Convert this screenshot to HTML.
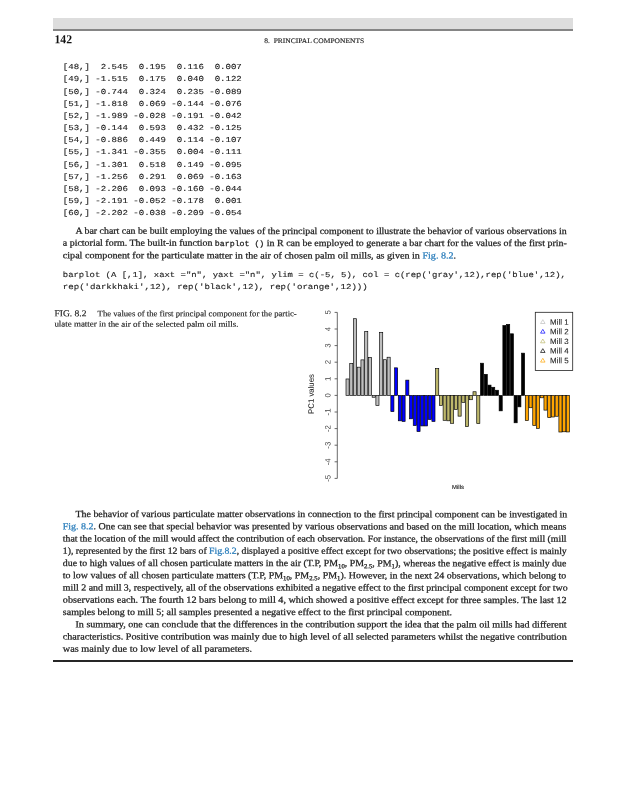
<!DOCTYPE html>
<html><head><meta charset="utf-8"><title>page 142</title>
<style>
html,body{margin:0;padding:0;background:#fff;}
body{width:625px;height:800px;position:relative;overflow:hidden;font-family:"Liberation Serif",serif;}
#wrap{position:absolute;left:0;top:0;width:625px;height:800px;will-change:transform;}
svg{position:absolute;left:0;top:0;}
text{white-space:pre;}
.lk{fill:#2a7dbb;stroke:#2a7dbb;}
</style></head><body>
<div id="wrap">

<div style="position:absolute;left:53px;top:18px;width:520px;height:11px;background:#dddddd;"></div>
<div style="position:absolute;left:53px;top:29px;width:520px;height:1.6px;background:#858585;"></div>
<div style="position:absolute;left:53px;top:660.0px;width:520px;height:2px;background:#262626;"></div>
<svg width="625" height="800" viewBox="0 0 625 800">
<rect x="346.00" y="378.97" width="3.11" height="16.43" fill="#bebebe" stroke="#000" stroke-width="0.65"/>
<rect x="349.74" y="363.36" width="3.11" height="32.04" fill="#bebebe" stroke="#000" stroke-width="0.65"/>
<rect x="353.47" y="318.71" width="3.11" height="76.69" fill="#bebebe" stroke="#000" stroke-width="0.65"/>
<rect x="357.20" y="367.18" width="3.11" height="28.22" fill="#bebebe" stroke="#000" stroke-width="0.65"/>
<rect x="360.94" y="359.88" width="3.11" height="35.52" fill="#bebebe" stroke="#000" stroke-width="0.65"/>
<rect x="364.68" y="331.32" width="3.11" height="64.08" fill="#bebebe" stroke="#000" stroke-width="0.65"/>
<rect x="368.41" y="357.39" width="3.11" height="38.01" fill="#bebebe" stroke="#000" stroke-width="0.65"/>
<rect x="372.14" y="395.40" width="3.11" height="1.83" fill="#bebebe" stroke="#000" stroke-width="0.65"/>
<rect x="375.88" y="395.40" width="3.11" height="10.13" fill="#bebebe" stroke="#000" stroke-width="0.65"/>
<rect x="379.62" y="332.32" width="3.11" height="63.08" fill="#bebebe" stroke="#000" stroke-width="0.65"/>
<rect x="383.35" y="359.71" width="3.11" height="35.69" fill="#bebebe" stroke="#000" stroke-width="0.65"/>
<rect x="387.08" y="357.22" width="3.11" height="38.18" fill="#bebebe" stroke="#000" stroke-width="0.65"/>
<rect x="390.82" y="395.40" width="3.11" height="16.27" fill="#0000ff" stroke="#000" stroke-width="0.65"/>
<rect x="394.56" y="367.84" width="3.11" height="27.56" fill="#0000ff" stroke="#000" stroke-width="0.65"/>
<rect x="398.29" y="395.40" width="3.11" height="25.40" fill="#0000ff" stroke="#000" stroke-width="0.65"/>
<rect x="402.02" y="395.40" width="3.11" height="26.06" fill="#0000ff" stroke="#000" stroke-width="0.65"/>
<rect x="405.76" y="380.13" width="3.11" height="15.27" fill="#0000ff" stroke="#000" stroke-width="0.65"/>
<rect x="409.50" y="395.40" width="3.11" height="23.41" fill="#0000ff" stroke="#000" stroke-width="0.65"/>
<rect x="413.23" y="395.40" width="3.11" height="30.21" fill="#0000ff" stroke="#000" stroke-width="0.65"/>
<rect x="416.97" y="395.40" width="3.11" height="36.19" fill="#0000ff" stroke="#000" stroke-width="0.65"/>
<rect x="420.70" y="395.40" width="3.11" height="30.54" fill="#0000ff" stroke="#000" stroke-width="0.65"/>
<rect x="424.44" y="395.40" width="3.11" height="30.54" fill="#0000ff" stroke="#000" stroke-width="0.65"/>
<rect x="428.17" y="395.40" width="3.11" height="24.07" fill="#0000ff" stroke="#000" stroke-width="0.65"/>
<rect x="431.90" y="395.40" width="3.11" height="26.06" fill="#0000ff" stroke="#000" stroke-width="0.65"/>
<rect x="435.64" y="368.67" width="3.11" height="26.73" fill="#bdb76b" stroke="#000" stroke-width="0.65"/>
<rect x="439.38" y="395.40" width="3.11" height="9.96" fill="#bdb76b" stroke="#000" stroke-width="0.65"/>
<rect x="443.11" y="395.40" width="3.11" height="24.90" fill="#bdb76b" stroke="#000" stroke-width="0.65"/>
<rect x="446.85" y="395.40" width="3.11" height="25.40" fill="#bdb76b" stroke="#000" stroke-width="0.65"/>
<rect x="450.58" y="395.40" width="3.11" height="27.89" fill="#bdb76b" stroke="#000" stroke-width="0.65"/>
<rect x="454.31" y="395.40" width="3.11" height="14.11" fill="#bdb76b" stroke="#000" stroke-width="0.65"/>
<rect x="458.05" y="395.40" width="3.11" height="20.75" fill="#bdb76b" stroke="#000" stroke-width="0.65"/>
<rect x="461.78" y="395.40" width="3.11" height="6.97" fill="#bdb76b" stroke="#000" stroke-width="0.65"/>
<rect x="465.52" y="395.40" width="3.11" height="31.21" fill="#bdb76b" stroke="#000" stroke-width="0.65"/>
<rect x="469.25" y="395.40" width="3.11" height="4.32" fill="#bdb76b" stroke="#000" stroke-width="0.65"/>
<rect x="472.99" y="391.75" width="3.11" height="3.65" fill="#bdb76b" stroke="#000" stroke-width="0.65"/>
<rect x="476.73" y="395.40" width="3.11" height="28.22" fill="#bdb76b" stroke="#000" stroke-width="0.65"/>
<rect x="480.46" y="363.20" width="3.11" height="32.20" fill="#000000" stroke="#000" stroke-width="0.65"/>
<rect x="484.19" y="374.32" width="3.11" height="21.08" fill="#000000" stroke="#000" stroke-width="0.65"/>
<rect x="487.93" y="385.11" width="3.11" height="10.29" fill="#000000" stroke="#000" stroke-width="0.65"/>
<rect x="491.66" y="387.27" width="3.11" height="8.13" fill="#000000" stroke="#000" stroke-width="0.65"/>
<rect x="495.40" y="390.25" width="3.11" height="5.15" fill="#000000" stroke="#000" stroke-width="0.65"/>
<rect x="499.13" y="395.40" width="3.11" height="15.44" fill="#000000" stroke="#000" stroke-width="0.65"/>
<rect x="502.87" y="325.51" width="3.11" height="69.89" fill="#000000" stroke="#000" stroke-width="0.65"/>
<rect x="506.61" y="324.35" width="3.11" height="71.05" fill="#000000" stroke="#000" stroke-width="0.65"/>
<rect x="510.34" y="333.81" width="3.11" height="61.59" fill="#000000" stroke="#000" stroke-width="0.65"/>
<rect x="514.08" y="395.40" width="3.11" height="27.39" fill="#000000" stroke="#000" stroke-width="0.65"/>
<rect x="517.81" y="395.40" width="3.11" height="11.45" fill="#000000" stroke="#000" stroke-width="0.65"/>
<rect x="521.54" y="353.15" width="3.11" height="42.25" fill="#000000" stroke="#000" stroke-width="0.65"/>
<rect x="525.28" y="395.40" width="3.11" height="25.15" fill="#ffa500" stroke="#000" stroke-width="0.65"/>
<rect x="529.01" y="395.40" width="3.11" height="12.35" fill="#ffa500" stroke="#000" stroke-width="0.65"/>
<rect x="532.75" y="395.40" width="3.11" height="30.18" fill="#ffa500" stroke="#000" stroke-width="0.65"/>
<rect x="536.49" y="395.40" width="3.11" height="33.02" fill="#ffa500" stroke="#000" stroke-width="0.65"/>
<rect x="540.22" y="395.40" width="3.11" height="2.39" fill="#ffa500" stroke="#000" stroke-width="0.65"/>
<rect x="543.95" y="395.40" width="3.11" height="14.71" fill="#ffa500" stroke="#000" stroke-width="0.65"/>
<rect x="547.69" y="395.40" width="3.11" height="22.26" fill="#ffa500" stroke="#000" stroke-width="0.65"/>
<rect x="551.42" y="395.40" width="3.11" height="21.60" fill="#ffa500" stroke="#000" stroke-width="0.65"/>
<rect x="555.16" y="395.40" width="3.11" height="20.85" fill="#ffa500" stroke="#000" stroke-width="0.65"/>
<rect x="558.89" y="395.40" width="3.11" height="36.62" fill="#ffa500" stroke="#000" stroke-width="0.65"/>
<rect x="562.63" y="395.40" width="3.11" height="36.37" fill="#ffa500" stroke="#000" stroke-width="0.65"/>
<rect x="566.37" y="395.40" width="3.11" height="36.55" fill="#ffa500" stroke="#000" stroke-width="0.65"/>
<path d="M337.3 312.40V478.40" stroke="#444" stroke-width="0.8" fill="none"/>
<path d="M334.6 478.40H337.3" stroke="#444" stroke-width="0.8" fill="none"/>
<path d="M334.6 461.80H337.3" stroke="#444" stroke-width="0.8" fill="none"/>
<path d="M334.6 445.20H337.3" stroke="#444" stroke-width="0.8" fill="none"/>
<path d="M334.6 428.60H337.3" stroke="#444" stroke-width="0.8" fill="none"/>
<path d="M334.6 412.00H337.3" stroke="#444" stroke-width="0.8" fill="none"/>
<path d="M334.6 395.40H337.3" stroke="#444" stroke-width="0.8" fill="none"/>
<path d="M334.6 378.80H337.3" stroke="#444" stroke-width="0.8" fill="none"/>
<path d="M334.6 362.20H337.3" stroke="#444" stroke-width="0.8" fill="none"/>
<path d="M334.6 345.60H337.3" stroke="#444" stroke-width="0.8" fill="none"/>
<path d="M334.6 329.00H337.3" stroke="#444" stroke-width="0.8" fill="none"/>
<path d="M334.6 312.40H337.3" stroke="#444" stroke-width="0.8" fill="none"/>
<rect x="535.3" y="312.3" width="37.4" height="58.1" fill="#fff" stroke="#222" stroke-width="0.8"/>
<path d="M542.8 319.70L545.05 323.50H540.55Z" fill="none" stroke="#bebebe" stroke-width="0.7"/>
<path d="M542.8 329.35L545.05 333.15H540.55Z" fill="none" stroke="#0000ff" stroke-width="0.7"/>
<path d="M542.8 339.00L545.05 342.80H540.55Z" fill="none" stroke="#bdb76b" stroke-width="0.7"/>
<path d="M542.8 348.65L545.05 352.45H540.55Z" fill="none" stroke="#000000" stroke-width="0.7"/>
<path d="M542.8 358.30L545.05 362.10H540.55Z" fill="none" stroke="#ffa500" stroke-width="0.7"/>
<text id="L1" transform="translate(54.40 43.20) scale(0.9627 1) rotate(0.03)" font-family="Liberation Serif" font-size="12.2" fill="#111" font-weight="bold">142</text>
<text id="L2" transform="translate(264.30 43.00) scale(1.0726 1) rotate(0.03)" font-family="Liberation Serif" font-size="7.0" fill="#222" stroke="#222" stroke-width="0.15">8.  PRINCIPAL COMPONENTS</text>
<text id="L3" transform="translate(62.80 69.20) scale(1.1753 1) rotate(0.03)" font-family="Liberation Mono" font-size="7.7" fill="#222" stroke="#222" stroke-width="0.12">[48,]  2.545  0.195  0.116  0.007</text>
<text id="L4" transform="translate(62.80 81.37) scale(1.1753 1) rotate(0.03)" font-family="Liberation Mono" font-size="7.7" fill="#222" stroke="#222" stroke-width="0.12">[49,] -1.515  0.175  0.040  0.122</text>
<text id="L5" transform="translate(62.80 93.54) scale(1.1753 1) rotate(0.03)" font-family="Liberation Mono" font-size="7.7" fill="#222" stroke="#222" stroke-width="0.12">[50,] -0.744  0.324  0.235 -0.089</text>
<text id="L6" transform="translate(62.80 105.71) scale(1.1753 1) rotate(0.03)" font-family="Liberation Mono" font-size="7.7" fill="#222" stroke="#222" stroke-width="0.12">[51,] -1.818  0.069 -0.144 -0.076</text>
<text id="L7" transform="translate(62.80 117.88) scale(1.1753 1) rotate(0.03)" font-family="Liberation Mono" font-size="7.7" fill="#222" stroke="#222" stroke-width="0.12">[52,] -1.989 -0.028 -0.191 -0.042</text>
<text id="L8" transform="translate(62.80 130.05) scale(1.1753 1) rotate(0.03)" font-family="Liberation Mono" font-size="7.7" fill="#222" stroke="#222" stroke-width="0.12">[53,] -0.144  0.593  0.432 -0.125</text>
<text id="L9" transform="translate(62.80 142.22) scale(1.1753 1) rotate(0.03)" font-family="Liberation Mono" font-size="7.7" fill="#222" stroke="#222" stroke-width="0.12">[54,] -0.886  0.449  0.114 -0.107</text>
<text id="L10" transform="translate(62.80 154.39) scale(1.1753 1) rotate(0.03)" font-family="Liberation Mono" font-size="7.7" fill="#222" stroke="#222" stroke-width="0.12">[55,] -1.341 -0.355  0.004 -0.111</text>
<text id="L11" transform="translate(62.80 166.56) scale(1.1753 1) rotate(0.03)" font-family="Liberation Mono" font-size="7.7" fill="#222" stroke="#222" stroke-width="0.12">[56,] -1.301  0.518  0.149 -0.095</text>
<text id="L12" transform="translate(62.80 178.73) scale(1.1753 1) rotate(0.03)" font-family="Liberation Mono" font-size="7.7" fill="#222" stroke="#222" stroke-width="0.12">[57,] -1.256  0.291  0.069 -0.163</text>
<text id="L13" transform="translate(62.80 190.90) scale(1.1753 1) rotate(0.03)" font-family="Liberation Mono" font-size="7.7" fill="#222" stroke="#222" stroke-width="0.12">[58,] -2.206  0.093 -0.160 -0.044</text>
<text id="L14" transform="translate(62.80 203.07) scale(1.1753 1) rotate(0.03)" font-family="Liberation Mono" font-size="7.7" fill="#222" stroke="#222" stroke-width="0.12">[59,] -2.191 -0.052 -0.178  0.001</text>
<text id="L15" transform="translate(62.80 215.24) scale(1.1753 1) rotate(0.03)" font-family="Liberation Mono" font-size="7.7" fill="#222" stroke="#222" stroke-width="0.12">[60,] -2.202 -0.038 -0.209 -0.054</text>
<text id="L16" transform="translate(75.50 233.80) scale(1.0616 1) rotate(0.03)" font-family="Liberation Serif" font-size="9.3" fill="#1c1c1c" stroke="#1c1c1c" stroke-width="0.25">A bar chart can be built employing the values of the principal component to illustrate the behavior of various observations in</text>
<text id="L17" transform="translate(62.80 245.80) scale(1.0711 1) rotate(0.03)" font-family="Liberation Serif" font-size="9.3" fill="#1c1c1c" stroke="#1c1c1c" stroke-width="0.25">a pictorial form. The built-in function <tspan font-family="Liberation Mono" font-size="7.7">barplot ()</tspan> in R can be employed to generate a bar chart for the values of the first prin-</text>
<text id="L18" transform="translate(62.80 258.30) scale(1.0876 1) rotate(0.03)" font-family="Liberation Serif" font-size="9.3" fill="#1c1c1c" stroke="#1c1c1c" stroke-width="0.25">cipal component for the particulate matter in the air of chosen palm oil mills, as given in <tspan class="lk">Fig. 8.2</tspan>.</text>
<text id="L19" transform="translate(62.80 276.70) scale(1.1594 1) rotate(0.03)" font-family="Liberation Mono" font-size="7.7" fill="#222" stroke="#222" stroke-width="0.12">barplot (A [,1], xaxt ="n", yaxt ="n", ylim = c(-5, 5), col = c(rep('gray',12),rep('blue',12),</text>
<text id="L20" transform="translate(62.80 288.70) scale(1.1814 1) rotate(0.03)" font-family="Liberation Mono" font-size="7.7" fill="#222" stroke="#222" stroke-width="0.12">rep('darkkhaki',12), rep('black',12), rep('orange',12)))</text>
<text id="L21" transform="translate(54.40 316.20) scale(1.0639 1) rotate(0.03)" font-family="Liberation Serif" font-size="9.0" fill="#1c1c1c" stroke="#1c1c1c" stroke-width="0.15">FIG. 8.2</text>
<text id="L22" transform="translate(97.60 316.20) scale(1.0569 1) rotate(0.03)" font-family="Liberation Serif" font-size="8.2" fill="#1c1c1c" stroke="#1c1c1c" stroke-width="0.15">The values of the first principal component for the partic-</text>
<text id="L23" transform="translate(54.40 326.60) scale(1.0898 1) rotate(0.03)" font-family="Liberation Serif" font-size="8.2" fill="#1c1c1c" stroke="#1c1c1c" stroke-width="0.15">ulate matter in the air of the selected palm oil mills.</text>
<text id="L24" transform="translate(75.50 517.00) scale(1.0658 1) rotate(0.03)" font-family="Liberation Serif" font-size="9.3" fill="#1c1c1c" stroke="#1c1c1c" stroke-width="0.25">The behavior of various particulate matter observations in connection to the first principal component can be investigated in</text>
<text id="L25" transform="translate(62.80 529.25) scale(1.0723 1) rotate(0.03)" font-family="Liberation Serif" font-size="9.3" fill="#1c1c1c" stroke="#1c1c1c" stroke-width="0.25"><tspan class="lk">Fig. 8.2</tspan>. One can see that special behavior was presented by various observations and based on the mill location, which means</text>
<text id="L26" transform="translate(62.80 541.49) scale(1.0490 1) rotate(0.03)" font-family="Liberation Serif" font-size="9.3" fill="#1c1c1c" stroke="#1c1c1c" stroke-width="0.25">that the location of the mill would affect the contribution of each observation. For instance, the observations of the first mill (mill</text>
<text id="L27" transform="translate(62.80 553.74) scale(1.0482 1) rotate(0.03)" font-family="Liberation Serif" font-size="9.3" fill="#1c1c1c" stroke="#1c1c1c" stroke-width="0.25">1), represented by the first 12 bars of <tspan class="lk">Fig.8.2</tspan>, displayed a positive effect except for two observations; the positive effect is mainly</text>
<text id="L28" transform="translate(62.80 565.98) scale(1.0635 1) rotate(0.03)" font-family="Liberation Serif" font-size="9.3" fill="#1c1c1c" stroke="#1c1c1c" stroke-width="0.25">due to high values of all chosen particulate matters in the air (T.P, PM<tspan dy="2.0" font-size="6.32">10</tspan><tspan dy="-2.0" font-size="1">​</tspan>, PM<tspan dy="2.0" font-size="6.32">2.5</tspan><tspan dy="-2.0" font-size="1">​</tspan>, PM<tspan dy="2.0" font-size="6.32">1</tspan><tspan dy="-2.0" font-size="1">​</tspan>), whereas the negative effect is mainly due</text>
<text id="L29" transform="translate(62.80 578.23) scale(1.0732 1) rotate(0.03)" font-family="Liberation Serif" font-size="9.3" fill="#1c1c1c" stroke="#1c1c1c" stroke-width="0.25">to low values of all chosen particulate matters (T.P, PM<tspan dy="2.0" font-size="6.32">10</tspan><tspan dy="-2.0" font-size="1">​</tspan>, PM<tspan dy="2.0" font-size="6.32">2.5</tspan><tspan dy="-2.0" font-size="1">​</tspan>, PM<tspan dy="2.0" font-size="6.32">1</tspan><tspan dy="-2.0" font-size="1">​</tspan>). However, in the next 24 observations, which belong to</text>
<text id="L30" transform="translate(62.80 590.47) scale(1.0641 1) rotate(0.03)" font-family="Liberation Serif" font-size="9.3" fill="#1c1c1c" stroke="#1c1c1c" stroke-width="0.25">mill 2 and mill 3, respectively, all of the observations exhibited a negative effect to the first principal component except for two</text>
<text id="L31" transform="translate(62.80 602.72) scale(1.0976 1) rotate(0.03)" font-family="Liberation Serif" font-size="9.3" fill="#1c1c1c" stroke="#1c1c1c" stroke-width="0.25">observations each. The fourth 12 bars belong to mill 4, which showed a positive effect except for three samples. The last 12</text>
<text id="L32" transform="translate(62.80 614.96) scale(1.0787 1) rotate(0.03)" font-family="Liberation Serif" font-size="9.3" fill="#1c1c1c" stroke="#1c1c1c" stroke-width="0.25">samples belong to mill 5; all samples presented a negative effect to the first principal component.</text>
<text id="L33" transform="translate(75.50 627.21) scale(1.0850 1) rotate(0.03)" font-family="Liberation Serif" font-size="9.3" fill="#1c1c1c" stroke="#1c1c1c" stroke-width="0.25">In summary, one can conclude that the differences in the contribution support the idea that the palm oil mills had different</text>
<text id="L34" transform="translate(62.80 639.45) scale(1.0909 1) rotate(0.03)" font-family="Liberation Serif" font-size="9.3" fill="#1c1c1c" stroke="#1c1c1c" stroke-width="0.25">characteristics. Positive contribution was mainly due to high level of all selected parameters whilst the negative contribution</text>
<text id="L35" transform="translate(62.80 651.69) scale(1.1032 1) rotate(0.03)" font-family="Liberation Serif" font-size="9.3" fill="#1c1c1c" stroke="#1c1c1c" stroke-width="0.25">was mainly due to low level of all parameters.</text>
<text id="L36" transform="translate(330.50 478.40) rotate(-90) scale(1.0000 1) rotate(0.03)" font-family="Liberation Sans" font-size="7.8" fill="#444" text-anchor="middle">-5</text>
<text id="L37" transform="translate(330.50 461.80) rotate(-90) scale(1.0000 1) rotate(0.03)" font-family="Liberation Sans" font-size="7.8" fill="#444" text-anchor="middle">-4</text>
<text id="L38" transform="translate(330.50 445.20) rotate(-90) scale(1.0000 1) rotate(0.03)" font-family="Liberation Sans" font-size="7.8" fill="#444" text-anchor="middle">-3</text>
<text id="L39" transform="translate(330.50 428.60) rotate(-90) scale(1.0000 1) rotate(0.03)" font-family="Liberation Sans" font-size="7.8" fill="#444" text-anchor="middle">-2</text>
<text id="L40" transform="translate(330.50 412.00) rotate(-90) scale(1.0000 1) rotate(0.03)" font-family="Liberation Sans" font-size="7.8" fill="#444" text-anchor="middle">-1</text>
<text id="L41" transform="translate(330.50 395.40) rotate(-90) scale(1.0000 1) rotate(0.03)" font-family="Liberation Sans" font-size="7.8" fill="#444" text-anchor="middle">0</text>
<text id="L42" transform="translate(330.50 378.80) rotate(-90) scale(1.0000 1) rotate(0.03)" font-family="Liberation Sans" font-size="7.8" fill="#444" text-anchor="middle">1</text>
<text id="L43" transform="translate(330.50 362.20) rotate(-90) scale(1.0000 1) rotate(0.03)" font-family="Liberation Sans" font-size="7.8" fill="#444" text-anchor="middle">2</text>
<text id="L44" transform="translate(330.50 345.60) rotate(-90) scale(1.0000 1) rotate(0.03)" font-family="Liberation Sans" font-size="7.8" fill="#444" text-anchor="middle">3</text>
<text id="L45" transform="translate(330.50 329.00) rotate(-90) scale(1.0000 1) rotate(0.03)" font-family="Liberation Sans" font-size="7.8" fill="#444" text-anchor="middle">4</text>
<text id="L46" transform="translate(330.50 312.40) rotate(-90) scale(1.0000 1) rotate(0.03)" font-family="Liberation Sans" font-size="7.8" fill="#444" text-anchor="middle">5</text>
<text id="L47" transform="translate(313.80 394.00) rotate(-90) scale(1.0000 1) rotate(0.03)" font-family="Liberation Sans" font-size="7.8" fill="#222" stroke="#222" stroke-width="0.06" text-anchor="middle">PC1 values</text>
<text id="L48" transform="translate(458.00 488.90) scale(1.0000 1) rotate(0.03)" font-family="Liberation Sans" font-size="5.9" fill="#111" stroke="#111" stroke-width="0.1" text-anchor="middle">Mills</text>
<text id="L49" transform="translate(550.10 324.65) scale(1.0200 1) rotate(0.03)" font-family="Liberation Sans" font-size="7.8" fill="#222" stroke="#222" stroke-width="0.08">Mill 1</text>
<text id="L50" transform="translate(550.10 334.30) scale(1.0200 1) rotate(0.03)" font-family="Liberation Sans" font-size="7.8" fill="#222" stroke="#222" stroke-width="0.08">Mill 2</text>
<text id="L51" transform="translate(550.10 343.95) scale(1.0200 1) rotate(0.03)" font-family="Liberation Sans" font-size="7.8" fill="#222" stroke="#222" stroke-width="0.08">Mill 3</text>
<text id="L52" transform="translate(550.10 353.60) scale(1.0200 1) rotate(0.03)" font-family="Liberation Sans" font-size="7.8" fill="#222" stroke="#222" stroke-width="0.08">Mill 4</text>
<text id="L53" transform="translate(550.10 363.25) scale(1.0200 1) rotate(0.03)" font-family="Liberation Sans" font-size="7.8" fill="#222" stroke="#222" stroke-width="0.08">Mill 5</text>
</svg>
</div></body></html>
